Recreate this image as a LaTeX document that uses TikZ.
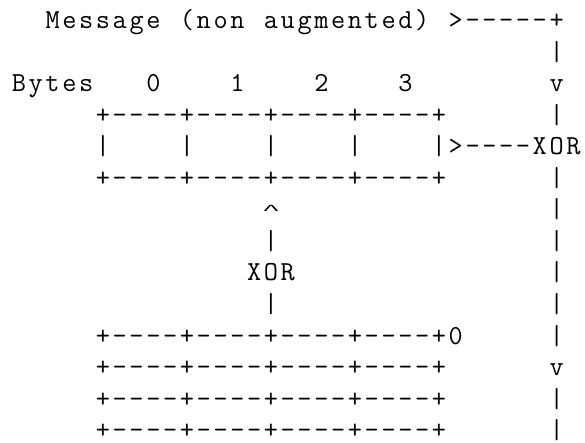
\documentclass[tikz,border=0pt]{standalone}
\usepackage{fontspec}
\newfontfamily\caretfont{Liberation Mono}
% Monospaced grid: every character sits in a cell of fixed width
\newlength\cellw
\setlength\cellw{16.8pt}
\ExplSyntaxOn
\NewDocumentCommand\grid{m}{\str_map_inline:nn {#1} {\makebox[\cellw][c]{##1}}}
\ExplSyntaxOff
% a wide, flat caret in the style of the typewriter glyphs
\newcommand\caretglyph{\raisebox{3pt}{\scalebox{1.1}[0.5]{\caretfont\fontsize{28}{28}\selectfont\textasciicircum}}}
\tikzset{
  ascii/.style={anchor=base west, inner sep=0pt, outer sep=0pt, text depth=0pt,
    font=\ttfamily\fontsize{27.5}{27.5}\selectfont, text=black}
}
\begin{document}
\begin{tikzpicture}
\useasboundingbox (0,0) rectangle (585pt,-442pt);
% one unit = one character column / one text line
\begin{scope}[x=16.8pt, y=-31.55pt, shift={(10.6pt,-28.5pt)}]
  % header and incoming message
  \node[ascii] (msg) at (2,0) {\grid{Message (non augmented) >-----+}};
  \node[ascii] (bytes) at (0,2) {\grid{Bytes}};
  \node[ascii] (b0) at (8,2) {\grid{0}};
  \node[ascii] (b1) at (13,2) {\grid{1}};
  \node[ascii] (b2) at (18,2) {\grid{2}};
  \node[ascii] (b3) at (23,2) {\grid{3}};
  % right-hand rail
  \foreach \l in {1,3,5,6,7,8,9,10,12,13}
    \node[ascii] (rail\l) at (32,\l) {\grid{|}};
  \node[ascii] (down1) at (32,2) {\grid{v}};
  \node[ascii] (down2) at (32,11) {\grid{v}};
  % upper register
  \node[ascii] (regtop) at (5,3) {\grid{+----+----+----+----+}};
  \node[ascii] (cell0) at (5,4) {\grid{|}};
  \node[ascii] (cell1) at (10,4) {\grid{|}};
  \node[ascii] (cell2) at (15,4) {\grid{|}};
  \node[ascii] (cell3) at (20,4) {\grid{|}};
  \node[ascii] (xorout) at (25,4) {\grid{|>----XOR}};
  \node[ascii] (regbot) at (5,5) {\grid{+----+----+----+----+}};
  % feedback path through the middle XOR
  \node[ascii] (up) at (15,6) {\makebox[\cellw][c]{\caretglyph}};
  \node[ascii] (link1) at (15,7) {\grid{|}};
  \node[ascii] (xormid) at (14,8) {\grid{XOR}};
  \node[ascii] (link2) at (15,9) {\grid{|}};
  % lower stack
  \node[ascii] (stack0) at (5,10) {\grid{+----+----+----+----+0}};
  \node[ascii] (stack1) at (5,11) {\grid{+----+----+----+----+}};
  \node[ascii] (stack2) at (5,12) {\grid{+----+----+----+----+}};
  \node[ascii] (stack3) at (5,13) {\grid{+----+----+----+----+}};
\end{scope}
\end{tikzpicture}
\end{document}
